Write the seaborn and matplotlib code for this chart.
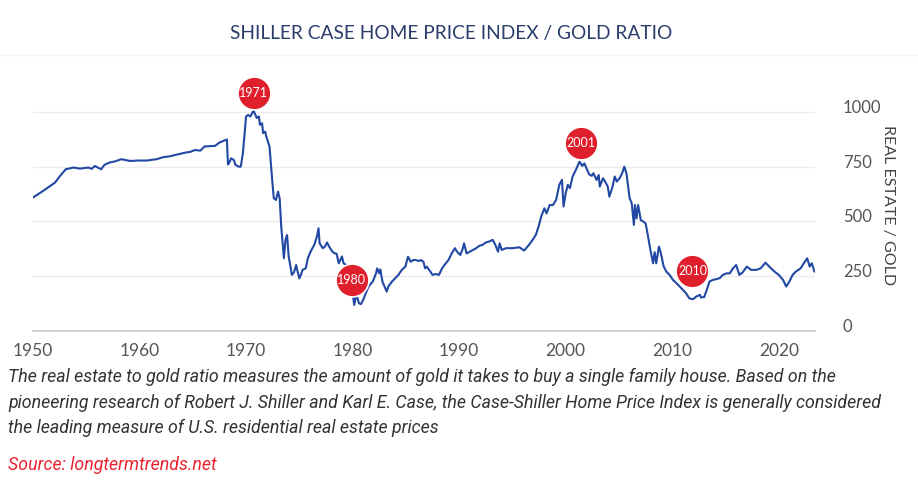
import matplotlib
matplotlib.use("Agg")
import matplotlib.pyplot as plt
import matplotlib.transforms as mtransforms
import seaborn as sns
import pandas as pd

# Real estate / gold ratio (decimal year, ratio)
years = [
    1950.0, 1950.5, 1951.0, 1951.5, 1952.06, 1952.5, 1953.07, 1953.8, 1954.4, 1955.2,
    1955.5, 1955.8, 1956.4, 1956.7, 1957.2, 1957.7, 1958.3, 1959.1, 1959.9, 1960.7,
    1961.6, 1962.2, 1962.8, 1963.5, 1964.3, 1964.8, 1965.2, 1965.7, 1966.1, 1967.1,
    1967.5, 1968.2, 1968.3, 1968.4, 1968.6, 1968.85, 1969.0, 1969.3, 1969.5, 1969.7,
    1970.0, 1970.2, 1970.4, 1970.7, 1971.0, 1971.2, 1971.3, 1971.5, 1971.6, 1971.8,
    1971.9, 1972.2, 1972.3, 1972.45, 1972.6, 1972.8, 1973.0, 1973.15, 1973.3, 1973.55,
    1973.7, 1973.85, 1974.0, 1974.3, 1974.5, 1974.7, 1974.8, 1975.0, 1975.2, 1975.3,
    1975.6, 1975.8, 1976.05, 1976.4, 1976.65, 1976.8, 1976.9, 1977.2, 1977.4, 1977.6,
    1977.8, 1978.1, 1978.3, 1978.5, 1978.7, 1979.0, 1979.15, 1979.4, 1979.75, 1980.05,
    1980.15, 1980.3, 1980.45, 1980.6, 1980.8, 1981.05, 1981.3, 1981.5, 1981.7, 1981.9,
    1982.2, 1982.3, 1982.5, 1982.6, 1982.8, 1983.0, 1983.2, 1983.35, 1983.7, 1984.0,
    1984.3, 1984.6, 1984.95, 1985.2, 1985.45, 1985.7, 1985.95, 1986.2, 1986.4, 1986.65,
    1986.8, 1986.95, 1987.3, 1987.5, 1987.8, 1988.1, 1988.4, 1988.7, 1989.0, 1989.3,
    1989.6, 1989.8, 1990.1, 1990.3, 1990.46, 1990.7, 1991.0, 1991.3, 1991.6, 1991.9,
    1992.2, 1992.5, 1992.8, 1993.15, 1993.4, 1993.65, 1993.8, 1994.0, 1994.4, 1995.0,
    1995.65, 1996.1, 1996.55, 1996.9, 1997.2, 1997.5, 1997.7, 1998.0, 1998.2, 1998.5,
    1998.8, 1999.1, 1999.4, 1999.65, 1999.8, 2000.0, 2000.2, 2000.4, 2000.65, 2000.95,
    2001.3, 2001.55, 2001.75, 2001.95, 2002.2, 2002.45, 2002.6, 2002.9, 2003.1, 2003.2,
    2003.5, 2003.7, 2003.95, 2004.1, 2004.4, 2004.6, 2004.8, 2005.05, 2005.3, 2005.5,
    2005.7, 2006.0, 2006.2, 2006.4, 2006.5, 2006.65, 2006.8, 2007.05, 2007.3, 2007.5,
    2007.7, 2007.95, 2008.2, 2008.35, 2008.5, 2008.75, 2008.9, 2009.0, 2009.2, 2009.45,
    2009.75, 2010.07, 2010.4, 2010.7, 2011.0, 2011.3, 2011.6, 2011.95, 2012.25, 2012.6,
    2012.7, 2013.0, 2013.35, 2013.5, 2013.8, 2014.15, 2014.45, 2014.75, 2015.1, 2015.4,
    2015.7, 2016.0, 2016.3, 2016.6, 2017.0, 2017.4, 2017.9, 2018.3, 2018.75, 2019.1,
    2019.6, 2020.0, 2020.4, 2020.7, 2021.0, 2021.3, 2021.6, 2022.05, 2022.35, 2022.67,
    2022.9, 2023.1, 2023.35,
]
ratio = [
    609, 625, 641, 658, 677, 705, 738, 746, 741, 746,
    740, 753, 738, 758, 769, 774, 784, 776, 778, 778,
    784, 793, 797, 805, 814, 818, 826, 823, 842, 845,
    860, 874, 760, 766, 788, 780, 758, 750, 750, 811,
    979, 986, 979, 1006, 972, 979, 941, 948, 903, 910,
    887, 842, 781, 689, 606, 598, 636, 606, 476, 332,
    416, 438, 339, 256, 268, 301, 279, 240, 263, 279,
    286, 332, 362, 393, 431, 469, 400, 378, 385, 404,
    385, 362, 355, 352, 309, 340, 309, 301, 250, 157,
    119, 157, 150, 126, 123, 149, 180, 203, 215, 226,
    263, 286, 263, 281, 225, 203, 180, 203, 226, 241,
    256, 278, 294, 339, 316, 324, 324, 319, 324, 316,
    286, 294, 271, 256, 260, 256, 286, 306, 324, 354,
    378, 362, 347, 370, 400, 354, 362, 370, 378, 389,
    393, 404, 408, 416, 393, 362, 400, 370, 378, 378,
    382, 367, 393, 416, 439, 484, 522, 560, 537, 575,
    575, 598, 667, 690, 568, 629, 667, 652, 705, 735,
    773, 753, 765, 743, 715, 708, 720, 689, 712, 659,
    697, 682, 659, 613, 659, 705, 682, 697, 720, 750,
    720, 606, 583, 484, 575, 514, 575, 506, 499, 491,
    440, 370, 309, 360, 309, 385, 362, 340, 294, 271,
    256, 233, 218, 203, 188, 172, 149, 145, 157, 165,
    153, 155, 203, 226, 233, 237, 241, 256, 263, 263,
    286, 301, 256, 267, 294, 279, 279, 286, 312, 294,
    271, 256, 233, 203, 226, 256, 271, 286, 309, 332,
    294, 309, 271,
]

# Highlighted years (red badges)
badge_labels = ["1971", "1980", "2001", "2010"]
badge_x = [1970.73, 1979.9, 2001.43, 2011.9]
badge_y = [1085, 233, 859, 275]

x_ticks = [1950, 1960, 1970, 1980, 1990, 2000, 2010, 2020]
y_ticks = [0, 250, 500, 750, 1000]

df = pd.DataFrame({"year": years, "ratio": ratio})

sns.set_theme(style="white")
plt.rcParams["font.family"] = ["Lato", "DejaVu Sans"]

fig = plt.figure(figsize=(9.18, 4.96), dpi=100)
ax = fig.add_axes([33 / 918, 165 / 496, 782 / 918, 252 / 496])

sns.lineplot(data=df, x="year", y="ratio", ax=ax, color="#2148a3",
             linewidth=1.5, estimator=None, sort=False)

ax.set_xlim(1950, 2023.4)
ax.set_ylim(0, 1150)
ax.set_xticks(x_ticks)
ax.set_yticks(y_ticks)
ax.yaxis.tick_right()
ax.yaxis.set_label_position("right")
ax.grid(axis="y", color="#ececec", linewidth=1)
ax.set_axisbelow(True)
for s in ["top", "left", "right"]:
    ax.spines[s].set_visible(False)
ax.spines["bottom"].set_color("#c4c8cc")
ax.spines["bottom"].set_linewidth(1.2)
ax.tick_params(axis="x", length=6, width=1.2, color="#c4c8cc",
               labelsize=12.5, labelcolor="#555555", pad=3)
ax.tick_params(axis="y", length=0, labelsize=12, labelcolor="#555555", pad=20)
for lab in ax.get_yticklabels():
    lab.set_transform(lab.get_transform() +
                      mtransforms.ScaledTranslation(0, 4 / 72, fig.dpi_scale_trans))
ax.set_xlabel("")
ax.set_ylabel("REAL ESTATE / GOLD", rotation=270, labelpad=10,
              fontsize=11.5, color="#444444")

# red year badges
ax.scatter(badge_x, badge_y, s=560, color="#e01f2d", edgecolor="white",
           linewidth=1.2, zorder=5, clip_on=False)
for lbl, bx, by in zip(badge_labels, badge_x, badge_y):
    ax.text(bx, by, lbl, color="white", fontsize=9, ha="center", va="center",
            zorder=6, clip_on=False)

fig.text(0.491, 1 - 33 / 496, "SHILLER CASE HOME PRICE INDEX / GOLD RATIO",
         ha="center", va="center", fontsize=13.8, color="#2b3d6b")
fig.add_artist(plt.Line2D([0, 1], [1 - 55 / 496] * 2, color="#f3f3f3", linewidth=1))

caption = ("The real estate to gold ratio measures the amount of gold it takes to buy a single family house. Based on the\n"
           "pioneering research of Robert J. Shiller and Karl E. Case, the Case-Shiller Home Price Index is generally considered\n"
           "the leading measure of U.S. residential real estate prices")
fig.text(8 / 918, 1 - 368 / 496, caption, ha="left", va="top", fontsize=12.8,
         style="italic", color="#333333", linespacing=1.52, family=["Roboto", "DejaVu Sans"])
fig.text(8 / 918, 1 - 465 / 496, "Source: longtermtrends.net", ha="left", va="center",
         fontsize=12.8, style="italic", color="#e8232f", family=["Roboto", "DejaVu Sans"])

fig.savefig("out.png", dpi=100)
